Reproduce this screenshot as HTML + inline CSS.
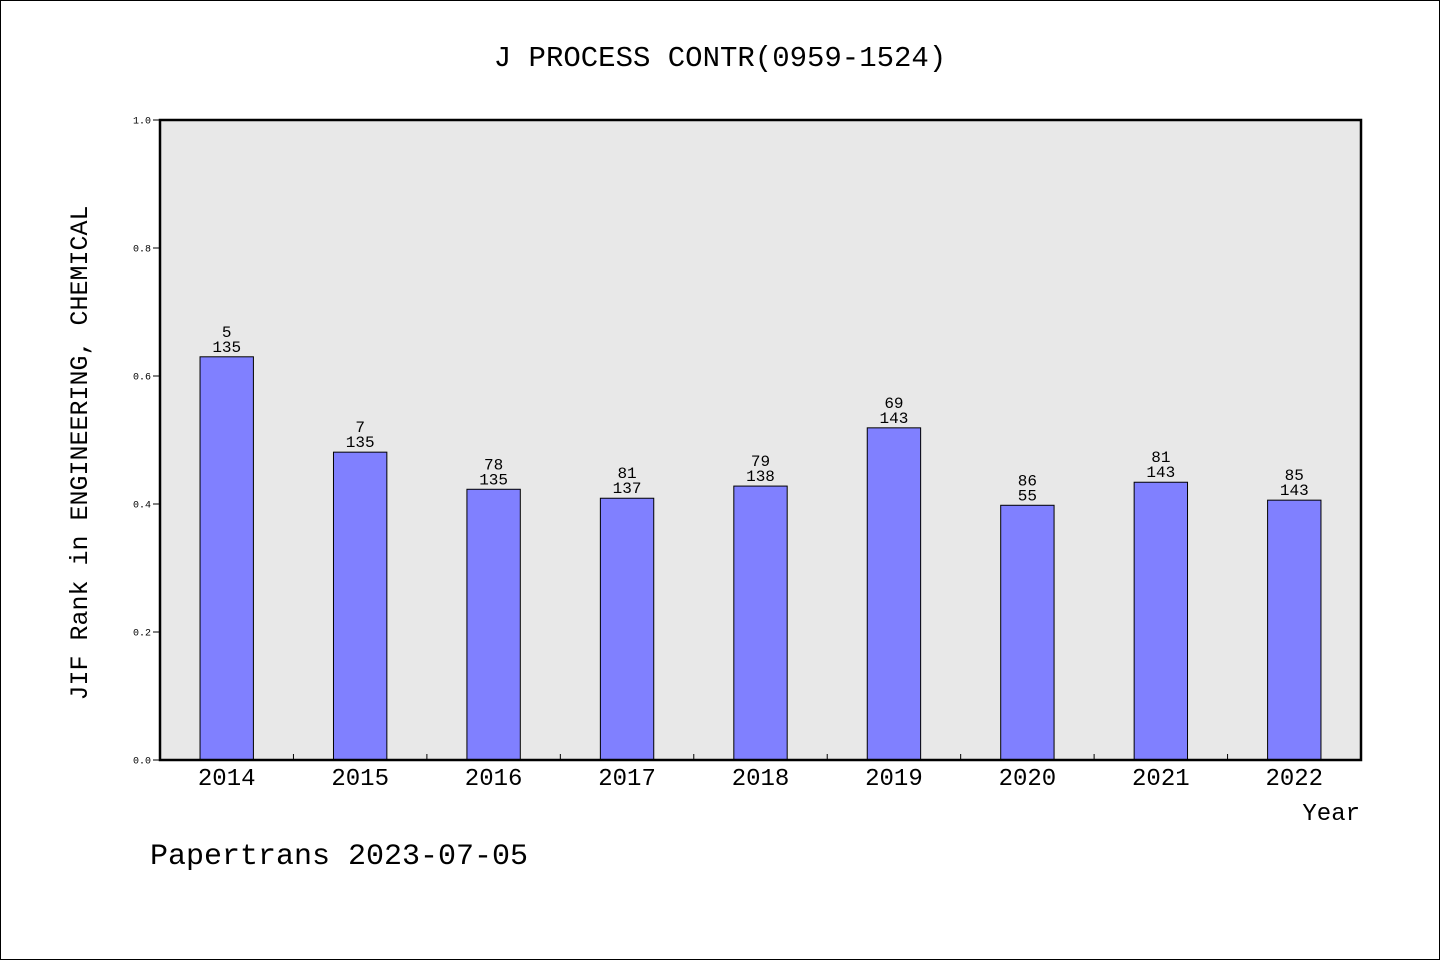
<!DOCTYPE html>
<html><head><meta charset="utf-8"><style>
html,body{margin:0;padding:0;background:#fff}
svg text{font-family:"Liberation Mono","WenQuanYi Zen Hei",monospace;fill:#000}
</style></head><body>
<svg id="chart" width="1440" height="960" xmlns="http://www.w3.org/2000/svg">
<rect x="0.5" y="0.5" width="1439" height="959" fill="#fff" stroke="#000"/>
<text x="720" y="66" font-size="29" text-anchor="middle">J PROCESS CONTR(0959-1524)</text>
<rect x="160" y="120" width="1201" height="640" fill="#e8e8e8"/>
<g id="bars"></g>
<rect x="160" y="120" width="1201" height="640" fill="none" stroke="#000" stroke-width="2.5"/>
<text transform="translate(87,453) rotate(-90)" font-size="25" text-anchor="middle">JIF Rank in ENGINEERING, CHEMICAL</text>
<text x="1360" y="820" font-size="24" text-anchor="end">Year</text>
<text x="150" y="864" font-size="30">Papertrans 2023-07-05</text>
</svg>
<script>
const categories=["2014","2015","2016","2017","2018","2019","2020","2021","2022"];
const values=[0.630,0.481,0.423,0.409,0.428,0.519,0.398,0.434,0.406];
const ranks=["5","7","78","81","79","69","86","81","85"];
const totals=["135","135","135","137","138","143","55","143","143"];
const yTicks=[0,0.2,0.4,0.6,0.8,1.0];
const NS="http://www.w3.org/2000/svg";
const X0=160,X1=1361,Y0=760,Y1=120;
const band=(X1-X0)/categories.length;
const xc=i=>X0+band*(i+0.5);
const y=v=>Y0-(Y0-Y1)*v;
const svg=document.getElementById('chart');
const g=document.getElementById('bars');
function mk(t,a,p){const e=document.createElementNS(NS,t);for(const k in a)e.setAttribute(k,a[k]);(p||svg).appendChild(e);return e;}
yTicks.forEach(v=>{
 const l=mk('line',{x1:153,x2:160,y1:y(v),y2:y(v),stroke:'#000'});
 
 
 const t=mk('text',{x:151,y:y(v)+3.5,'font-size':10,'text-anchor':'end'});
 t.textContent=v.toFixed(1);
 
 
});
for(let i=1;i<categories.length;i++){
 const l=mk('line',{x1:X0+band*i,x2:X0+band*i,y1:Y0,y2:Y0-6,stroke:'#000'});
 
 
}
categories.forEach((c,i)=>{
 const w=band*0.4;
 const r=mk('rect',{x:xc(i)-w/2,y:y(values[i]),width:w,height:Y0-y(values[i]),fill:'#8080ff',stroke:'#000','stroke-width':1},g);
 
 
 const t1=mk('text',{x:xc(i),y:y(values[i])-20,'font-size':16,'text-anchor':'middle'});
 t1.textContent=ranks[i];
 
 
 const t2=mk('text',{x:xc(i),y:y(values[i])-5,'font-size':16,'text-anchor':'middle'});
 t2.textContent=totals[i];
 
 
 const xl=mk('text',{x:xc(i),y:785,'font-size':24,'text-anchor':'middle'});
 xl.textContent=c;
 
 
});
</script>
</body></html>
